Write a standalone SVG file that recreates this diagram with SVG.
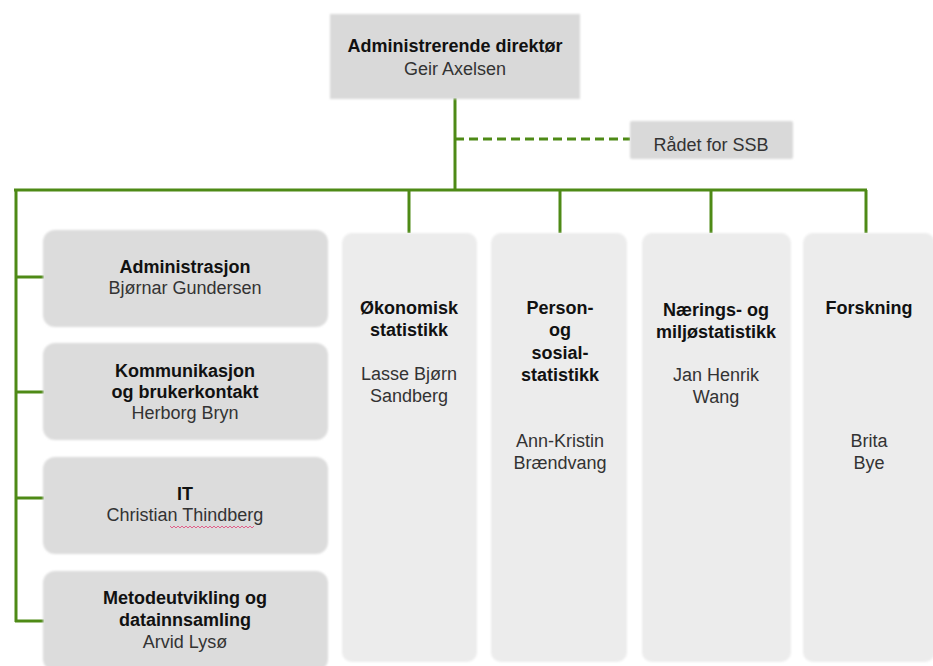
<svg xmlns="http://www.w3.org/2000/svg" width="933" height="666" viewBox="0 0 933 666">
  <defs>
    <filter id="soft" x="-10%" y="-10%" width="120%" height="120%">
      <feGaussianBlur stdDeviation="1.2"/>
    </filter>
  </defs>
  <style>
    .t { font-family: "Liberation Sans", Arial, sans-serif; font-size: 18px; text-anchor: middle; }
    .b { font-weight: bold; fill: #111; }
    .n { fill: #333; }
    .box { fill: #d9d9d9; }
    .lbox { fill: #dcdcdc; }
    .col { fill: #ececec; }
    .ln { stroke: #4e8a16; stroke-width: 3; fill: none; }
    .dash { stroke: #4e8a16; stroke-width: 3; fill: none; stroke-dasharray: 9 5; }
  </style>
  <rect width="933" height="666" fill="#ffffff"/>

  <g id="connectors">
    <line class="ln" x1="455" y1="98" x2="455" y2="191"/>
    <line class="dash" x1="455" y1="139" x2="630" y2="139"/>
    <line class="ln" x1="14" y1="190" x2="867" y2="190"/>
    <line class="ln" x1="16" y1="189" x2="16" y2="622"/>
    <line class="ln" x1="15" y1="277" x2="44" y2="277"/>
    <line class="ln" x1="15" y1="392" x2="44" y2="392"/>
    <line class="ln" x1="15" y1="498" x2="44" y2="498"/>
    <line class="ln" x1="15" y1="621" x2="44" y2="621"/>
    <line class="ln" x1="409" y1="190" x2="409" y2="233"/>
    <line class="ln" x1="560" y1="190" x2="560" y2="233"/>
    <line class="ln" x1="711" y1="190" x2="711" y2="233"/>
    <line class="ln" x1="866" y1="190" x2="866" y2="233"/>
  </g>

  <g id="direktor">
    <rect class="box" x="330" y="14" width="250" height="85" filter="url(#soft)"/>
    <text class="t b" x="455" y="52">Administrerende direktør</text>
    <text class="t n" x="455" y="75">Geir Axelsen</text>
  </g>

  <g id="radet">
    <rect class="box" x="630" y="121" width="163" height="38" rx="2" filter="url(#soft)"/>
    <text class="t n" x="711" y="151">Rådet for SSB</text>
  </g>

  <g id="administrasjon">
    <rect class="lbox" x="43" y="230" width="285" height="97" rx="12" filter="url(#soft)"/>
    <text class="t b" x="185" y="273">Administrasjon</text>
    <text class="t n" x="185" y="294">Bjørnar Gundersen</text>
  </g>

  <g id="kommunikasjon">
    <rect class="lbox" x="43" y="343" width="285" height="97" rx="12" filter="url(#soft)"/>
    <text class="t b" x="185" y="377">Kommunikasjon</text>
    <text class="t b" x="185" y="398">og brukerkontakt</text>
    <text class="t n" x="185" y="419">Herborg Bryn</text>
  </g>

  <g id="it">
    <rect class="lbox" x="43" y="457" width="285" height="97" rx="12" filter="url(#soft)"/>
    <text class="t b" x="185" y="500">IT</text>
    <text class="t n" x="185" y="521">Christian Thindberg</text>
    <path d="M170 526 l2 2 l2 -2 l2 2 l2 -2 l2 2 l2 -2 l2 2 l2 -2 l2 2 l2 -2 l2 2 l2 -2 l2 2 l2 -2 l2 2 l2 -2 l2 2 l2 -2 l2 2 l2 -2 l2 2 l2 -2 l2 2 l2 -2 l2 2 l2 -2 l2 2 l2 -2 l2 2 l2 -2 l2 2 l2 -2 l2 2 l2 -2 l2 2 l2 -2 l2 2 l2 -2 l2 2 l2 -2 l2 2 l2 -2" fill="none" stroke="#e0608a" stroke-width="1"/>
  </g>

  <g id="metode">
    <rect class="lbox" x="43" y="571" width="285" height="100" rx="12" filter="url(#soft)"/>
    <text class="t b" x="185" y="604">Metodeutvikling og</text>
    <text class="t b" x="185" y="626">datainnsamling</text>
    <text class="t n" x="185" y="648">Arvid Lysø</text>
  </g>

  <g id="okonomisk">
    <rect class="col" x="342" y="233" width="135" height="429" rx="10" filter="url(#soft)"/>
    <text class="t b" x="409" y="314">Økonomisk</text>
    <text class="t b" x="409" y="336">statistikk</text>
    <text class="t n" x="409" y="380">Lasse Bjørn</text>
    <text class="t n" x="409" y="402">Sandberg</text>
  </g>

  <g id="person">
    <rect class="col" x="491" y="233" width="136" height="429" rx="10" filter="url(#soft)"/>
    <text class="t b" x="560" y="314">Person-</text>
    <text class="t b" x="560" y="336">og</text>
    <text class="t b" x="560" y="359">sosial-</text>
    <text class="t b" x="560" y="381">statistikk</text>
    <text class="t n" x="560" y="447">Ann-Kristin</text>
    <text class="t n" x="560" y="469">Brændvang</text>
  </g>

  <g id="naerings">
    <rect class="col" x="642" y="233" width="149" height="429" rx="10" filter="url(#soft)"/>
    <text class="t b" x="716" y="316">Nærings- og</text>
    <text class="t b" x="716" y="338">miljøstatistikk</text>
    <text class="t n" x="716" y="381">Jan Henrik</text>
    <text class="t n" x="716" y="403">Wang</text>
  </g>

  <g id="forskning">
    <rect class="col" x="803" y="233" width="132" height="429" rx="10" filter="url(#soft)"/>
    <text class="t b" x="869" y="314">Forskning</text>
    <text class="t n" x="869" y="447">Brita</text>
    <text class="t n" x="869" y="469">Bye</text>
  </g>
</svg>
